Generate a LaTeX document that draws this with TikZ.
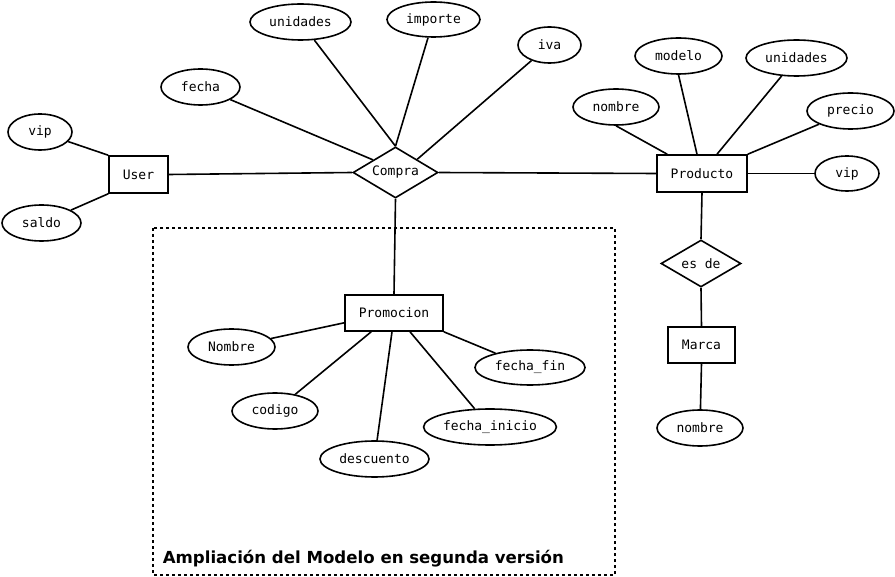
\documentclass[tikz,border=0pt]{standalone}
\usepackage{fontspec}
\setmonofont{DejaVu Sans Mono}
\newfontfamily\titlefont{DejaVu Sans}
\usetikzlibrary{shapes.geometric,calc}
\begin{document}
\begin{tikzpicture}[x=1pt,y=-1pt,
  every node/.style={font=\ttfamily\fontsize{13}{15}\selectfont, line width=1.6pt, inner sep=0pt},
  attr/.style={draw, ellipse, minimum height=36pt},
  ent/.style={draw, rectangle, minimum height=37pt},
  rel/.style={draw, diamond, aspect=1.67},
  conn/.style={line width=1.6pt},
  grupo/.style={line width=1.6pt, dash pattern=on 3pt off 3pt}]
\useasboundingbox (0,0) rectangle (895,577);

% group frame
\draw[grupo] (153,228) rectangle (615,575);
\node[font=\titlefont\bfseries\fontsize{16.6}{18}\selectfont, anchor=base west] (titulo) at (162,563) {Ampliación del Modelo en segunda versión};

% entities
\node[ent, minimum width=59pt] (user) at (138.5,174.5) {User};
\node[ent, minimum width=90pt] (prod) at (702,173.5) {Producto};
\node[ent, minimum width=98pt, minimum height=36pt] (promo) at (394,313) {Promocion};
\node[ent, minimum width=67pt, minimum height=36pt] (marca) at (701.5,345) {Marca};

% relationships
\node[rel, minimum width=85pt, minimum height=51pt] (compra) at (395.5,172.5) {Compra};
\node[rel, minimum width=80pt, minimum height=47pt] (esde) at (701,263.5) {es de};

% attributes of Compra
\node[attr, minimum width=101pt] (unidC) at (300.5,22) {unidades};
\node[attr, minimum width=93pt, minimum height=35pt] (importe) at (433.5,19.5) {importe};
\node[attr, minimum width=63pt] (iva) at (549.5,45) {iva};
\node[attr, minimum width=79pt] (fechaC) at (200.5,87) {fecha};

% attributes of User
\node[attr, minimum width=64pt] (vipU) at (40,132) {vip};
\node[attr, minimum width=79pt] (saldo) at (41.5,223) {saldo};

% attributes of Producto
\node[attr, minimum width=86pt] (nombreP) at (616,107) {nombre};
\node[attr, minimum width=87pt] (modelo) at (678.5,56) {modelo};
\node[attr, minimum width=101pt] (unidP) at (796.5,58) {unidades};
\node[attr, minimum width=87pt] (precio) at (850.5,111) {precio};
\node[attr, minimum width=64pt, minimum height=35pt] (vipP) at (847,173.5) {vip};

% attribute of Marca
\node[attr, minimum width=86pt] (nombreM) at (700,428) {nombre};

% attributes of Promocion
\node[attr, minimum width=87pt] (nombreR) at (231.5,347) {Nombre};
\node[attr, minimum width=86pt] (codigo) at (275,411) {codigo};
\node[attr, minimum width=109pt] (descuento) at (374.5,459) {descuento};
\node[attr, minimum width=132pt] (finicio) at (490,427) {fecha\_inicio};
\node[attr, minimum width=110pt, minimum height=35pt] (ffin) at (530,367.5) {fecha\_fin};

% connectors
\draw[conn] (user.east) -- (compra.west);
\draw[conn] (compra.east) -- (prod.west);
\draw[conn] (compra.south) -- (promo.north);
\draw[conn] (unidC) -- (compra.north);
\draw[conn] (importe) -- (compra.north);
\draw[conn] (fechaC) -- ($(compra.west)!0.48!(compra.north)$);
\draw[conn] (iva) -- ($(compra.north)!0.5!(compra.east)$);

\draw[conn] (vipU) -- (user.north west);
\draw[conn] (saldo) -- (user.south west);

\draw[conn] (nombreP.south) -- ($(prod.north west)+(11,0)$);
\draw[conn] (modelo.south) -- ($(prod.north)+(-5,0)$);
\draw[conn] (unidP) -- ($(prod.north)+(15,0)$);
\draw[conn] (precio) -- (prod.north east);
\draw[conn] (vipP) -- (prod.east);
\draw[conn] (prod.south) -- (esde.north);
\draw[conn] (esde.south) -- (marca.north);
\draw[conn] (marca.south) -- (nombreM);

\draw[conn] (nombreR) -- ($(promo.south west)+(0,-9)$);
\draw[conn] (codigo) -- ($(promo.south west)+(27,0)$);
\draw[conn] (descuento) -- ($(promo.south)+(-2,0)$);
\draw[conn] (finicio) -- ($(promo.south)+(16,0)$);
\draw[conn] (ffin) -- (promo.south east);
\end{tikzpicture}
\end{document}
